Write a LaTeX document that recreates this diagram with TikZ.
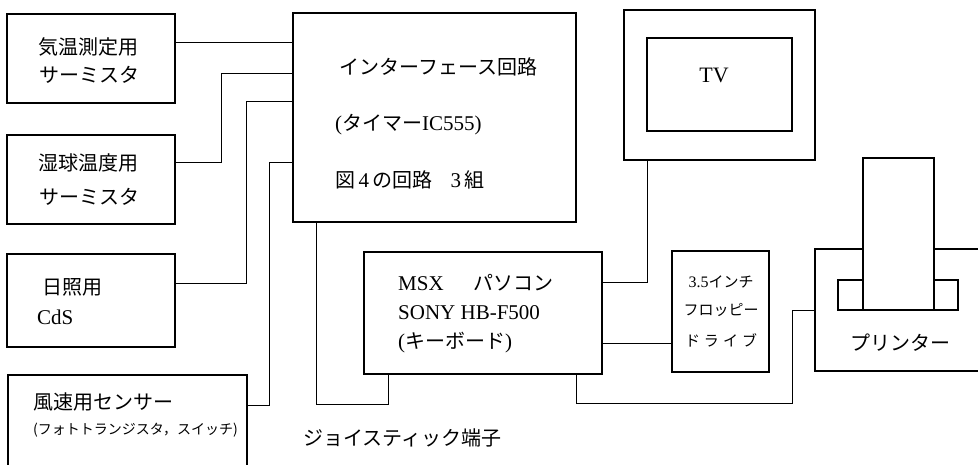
\documentclass[tikz,border=0pt]{standalone}
\usepackage{fontspec}
\setmainfont{Liberation Serif}
\newfontfamily\jpfont{Noto Sans CJK JP}
\usetikzlibrary{positioning}
\newcommand{\jp}{\jpfont\fontsize{20}{24}\selectfont}

\tikzset{
  box/.style={draw, line width=1.2pt, inner sep=0pt, outer sep=0pt, anchor=north west},
  wire/.style={line width=0.8pt},
  jtext/.style={inner sep=0pt, anchor=west, font=\jp},
  etext/.style={inner sep=0pt, anchor=west, font=\fontsize{21}{25}\selectfont},
  small/.style={inner sep=0pt, font=\jpfont\fontsize{15}{18}\selectfont},
}

\begin{document}
\begin{tikzpicture}[x=1pt, y=-1pt]
\useasboundingbox (0,0) rectangle (978,464);
\clip (0,0) rectangle (978,464);

% sensors
\node[box, minimum width=168pt, minimum height=89pt] (temp) at (7,14) {};
\node[jtext] (temp1) at (38,47) {気温測定用};
\node[jtext] (temp2) at (39,75) {サーミスタ};
\node[box, minimum width=168pt, minimum height=89pt] (wet) at (7,135) {};
\node[jtext] (wet1) at (38,163) {湿球温度用};
\node[jtext] (wet2) at (39,197) {サーミスタ};
\node[box, minimum width=168pt, minimum height=93pt] (cds) at (7,254) {};
\node[jtext] (cds1) at (42,287) {日照用};
\node[etext] (cds2) at (37,317) {CdS};
\node[box, minimum width=239pt, minimum height=115pt] (wind) at (8,375) {};
\node[jtext] (wind1) at (33,402) {風速用センサー};
\node[jtext, font=\jpfont\fontsize{14}{17}\selectfont] (wind2) at (33,430) {(フォトトランジスタ，スイッチ)};

% interface
\node[box, minimum width=283pt, minimum height=209pt] (iface) at (293,13) {};
\node[jtext] (if1) at (339,67) {インターフェース回路};
\node[etext] (if2) at (335,125) {({\jp タイマー}IC555)};
\node[etext] (if3) at (335,180) {{\jp 図}\,4\,{\jp の回路}\hspace{18pt}3\,{\jp 組}};

% TV
\node[box, minimum width=191pt, minimum height=150pt] (tv) at (624,10) {};
\node[box, minimum width=145pt, minimum height=93pt] (tvin) at (647,38) {};
\node[inner sep=0pt, font=\fontsize{22}{26}\selectfont] (tvlabel) at (714,75) {TV};

% computer
\node[box, minimum width=238pt, minimum height=122pt] (msx) at (364,252) {};
\node[etext] (msx1) at (398,283) {MSX\hspace{30pt}{\jp パソコン}};
\node[etext] (msx2) at (398,313) {SONY HB-F500};
\node[etext] (msx3) at (398,343) {({\jp キーボード})};

% floppy
\node[box, minimum width=97pt, minimum height=121pt] (fdd) at (672,251) {};
\node[small] (fdd1) at (721,282) {{\fontsize{16}{18}\rmfamily 3.5}インチ};
\node[small] (fdd2) at (721,310) {フロッピー};
\node[small] (fdd3) at (721,340) {ド\hspace{4pt}ラ\hspace{4pt}イ\hspace{4pt}ブ};

% printer
\node[box, minimum width=200pt, minimum height=122pt] (prn) at (815,249) {};
\node[box, fill=white, minimum width=71pt, minimum height=152pt] (head) at (863,158) {};
\node[box, minimum width=25pt, minimum height=30pt] (rollL) at (838,280) {};
\node[box, minimum width=24pt, minimum height=30pt] (rollR) at (934,280) {};
\node[jtext] (prn1) at (850,343) {プリンター};

\node[jtext] (joy) at (303,438) {ジョイスティック端子};

% wiring
\draw[wire] (temp.east |- 0,42) -- (iface.west |- 0,42);
\draw[wire] (wet.east |- 0,162) -| (221,73) -- (iface.west |- 0,73);
\draw[wire] (cds.east |- 0,283) -| (246,101) -- (iface.west |- 0,101);
\draw[wire] (wind.east |- 0,405) -| (269,162) -- (iface.west |- 0,162);
\draw[wire] (iface.south -| 316,0) -- (316,404) -| (msx.south -| 388,0);
\draw[wire] (msx.east |- 0,282) -| (tvin.west |- tv.south);
\draw[wire] (msx.east |- 0,343) -- (fdd.west |- 0,343);
\draw[wire] (msx.south -| 576,0) -- (576,403) -| (792,310) -- (prn.west);
\end{tikzpicture}
\end{document}
